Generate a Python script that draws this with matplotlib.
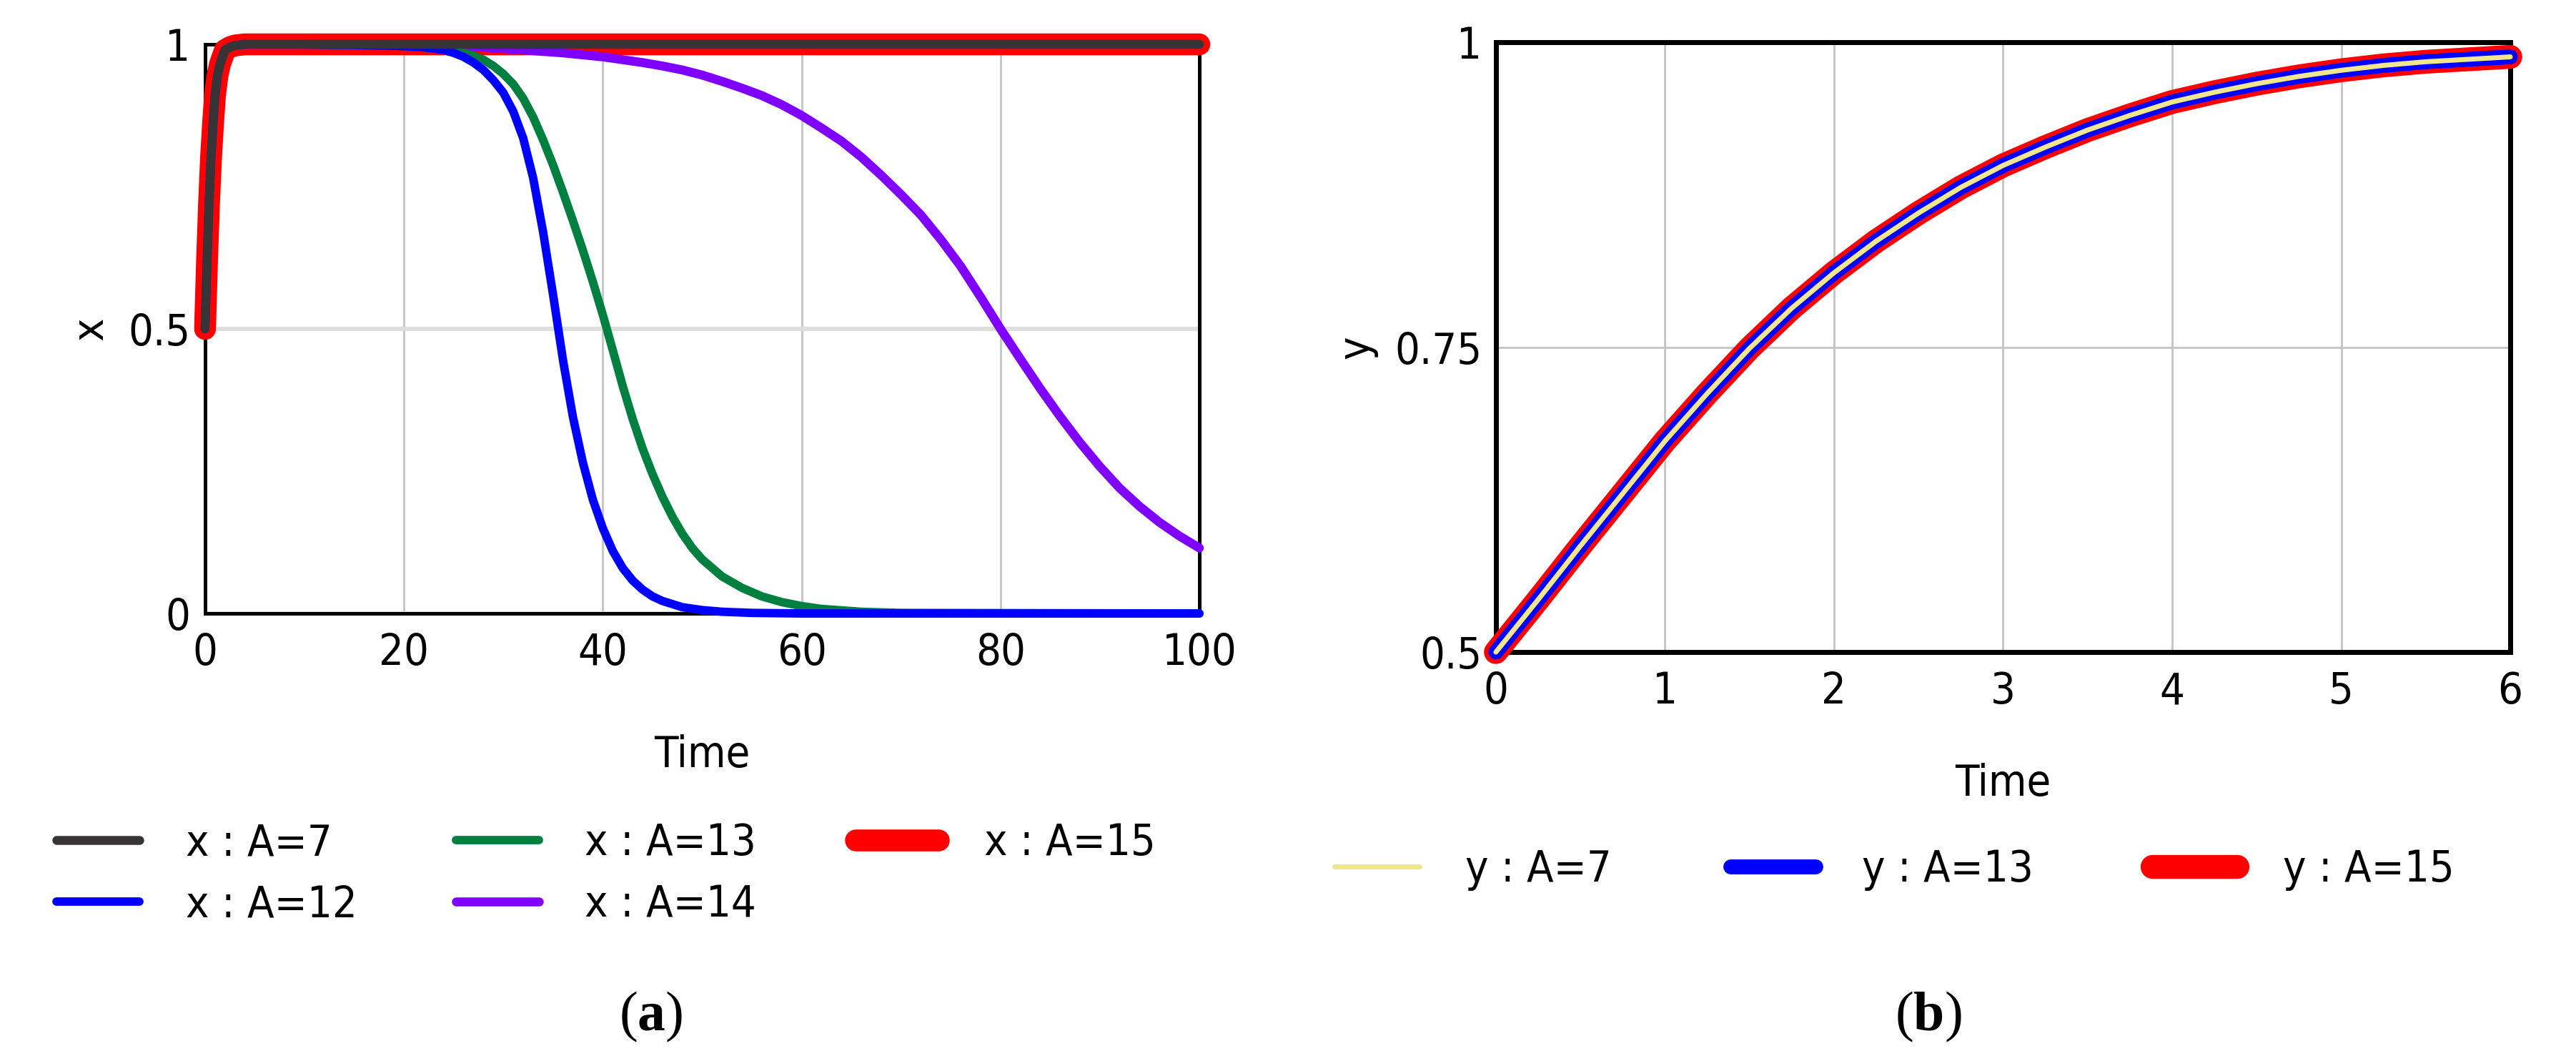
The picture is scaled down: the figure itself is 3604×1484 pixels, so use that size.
import os
import matplotlib
matplotlib.use('Agg')
import matplotlib.pyplot as plt
from matplotlib import font_manager
from matplotlib.font_manager import FontProperties

# x(t) for different A values
t_a7 = [0, 0.1, 0.2, 0.3, 0.4, 0.5, 0.6, 0.8, 1.0, 1.25, 1.5, 2, 2.5, 3, 4, 5, 100]
x_a7 = [0.5, 0.56, 0.62, 0.67, 0.72, 0.76, 0.80, 0.86, 0.91, 0.945, 0.965, 0.99,
        0.995, 0.998, 1.0, 1.0, 1.0]

t_a15 = [0, 0.1, 0.2, 0.3, 0.4, 0.5, 0.6, 0.8, 1.0, 1.25, 1.5, 2, 2.5, 3, 4, 5, 100]
x_a15 = [0.5, 0.56, 0.62, 0.67, 0.72, 0.76, 0.80, 0.86, 0.91, 0.945, 0.965, 0.99,
         0.995, 0.998, 1.0, 1.0, 1.0]

t_a12 = [0, 0.1, 0.2, 0.3, 0.4, 0.5, 0.6, 0.8, 1.0, 1.25, 1.5, 2, 2.5, 3, 4, 5,
         10, 15, 20, 22, 24, 25, 26, 27, 28, 29, 30, 31, 32, 33, 34, 35, 36, 37,
         38, 39, 40, 41, 42, 43, 44, 45, 46, 48, 50, 52, 55, 60, 100]
x_a12 = [0.5, 0.56, 0.62, 0.67, 0.72, 0.76, 0.80, 0.86, 0.91, 0.945, 0.965, 0.99,
         0.995, 0.998, 1.0, 1.0,
         1.0, 0.999, 0.997, 0.995, 0.99, 0.985, 0.978, 0.968, 0.955, 0.937, 0.915,
         0.882, 0.835, 0.765, 0.67, 0.56, 0.445, 0.345, 0.265, 0.2, 0.15, 0.11,
         0.08, 0.058, 0.042, 0.03, 0.022, 0.011, 0.006, 0.003, 0.001, 0.0, 0.0]

t_a13 = [0, 0.1, 0.2, 0.3, 0.4, 0.5, 0.6, 0.8, 1.0, 1.25, 1.5, 2, 2.5, 3, 4, 5,
         10, 15, 20, 24, 26, 27, 28, 29, 30, 31, 32, 33, 34, 35, 36, 37, 38, 39,
         40, 41, 42, 43, 44, 45, 46, 47, 48, 49, 50, 52, 54, 56, 58, 60, 62, 66,
         70, 100]
x_a13 = [0.5, 0.56, 0.62, 0.67, 0.72, 0.76, 0.80, 0.86, 0.91, 0.945, 0.965, 0.99,
         0.995, 0.998, 1.0, 1.0,
         1.0, 0.999, 0.997, 0.992, 0.985, 0.98, 0.973, 0.962, 0.948, 0.93, 0.905,
         0.872, 0.832, 0.788, 0.74, 0.69, 0.638, 0.583, 0.525, 0.463, 0.4, 0.342,
         0.29, 0.245, 0.205, 0.17, 0.14, 0.115, 0.095, 0.065, 0.045, 0.03, 0.02,
         0.013, 0.008, 0.003, 0.001, 0.0]

t_a14 = [0, 0.1, 0.2, 0.3, 0.4, 0.5, 0.6, 0.8, 1.0, 1.25, 1.5, 2, 2.5, 3, 4, 5,
         10, 15, 20, 24, 28, 32, 36, 40, 42, 44, 46, 48, 50, 52, 54, 56, 58, 60,
         62, 64, 66, 68, 70, 72, 74, 76, 78, 80, 82, 84, 86, 88, 90, 92, 94, 96,
         98, 100]
x_a14 = [0.5, 0.56, 0.62, 0.67, 0.72, 0.76, 0.80, 0.86, 0.91, 0.945, 0.965, 0.99,
         0.995, 0.998, 1.0, 1.0,
         1.0, 0.999, 0.998, 0.997, 0.995, 0.99, 0.985, 0.978, 0.973, 0.968, 0.962,
         0.955, 0.946, 0.935, 0.923, 0.91, 0.894, 0.875, 0.853, 0.83, 0.802, 0.77,
         0.736, 0.70, 0.657, 0.61, 0.556, 0.50, 0.447, 0.395, 0.346, 0.30, 0.258,
         0.22, 0.188, 0.16, 0.136, 0.115]

# y(t), panel (b) - the three runs lie on top of each other
t_y = [0, 0.25, 0.5, 0.75, 1, 1.25, 1.5, 1.75, 2, 2.25, 2.5, 2.75, 3, 3.25, 3.5,
       3.75, 4, 4.25, 4.5, 4.75, 5, 5.25, 5.5, 5.75, 6]
y_vals = [0.5, 0.543, 0.587, 0.630, 0.673, 0.712, 0.749, 0.782, 0.811, 0.837,
          0.860, 0.881, 0.899, 0.914, 0.928, 0.940, 0.951, 0.959, 0.966, 0.972,
          0.977, 0.981, 0.984, 0.986, 0.988]
y_a7 = y_vals
y_a13 = y_vals
y_a15 = y_vals

x_ticks_a = [0, 20, 40, 60, 80, 100]
x_ticklabels_a = ['0', '20', '40', '60', '80', '100']
y_ticks_a = [0, 0.5, 1]
y_ticklabels_a = ['0', '0.5', '1']
x_ticks_b = [0, 1, 2, 3, 4, 5, 6]
x_ticklabels_b = ['0', '1', '2', '3', '4', '5', '6']
y_ticks_b = [0.5, 0.75, 1]
y_ticklabels_b = ['0.5', '0.75', '1']

labels_a = ['x : A=7', 'x : A=12', 'x : A=13', 'x : A=14', 'x : A=15']
labels_b = ['y : A=7', 'y : A=13', 'y : A=15']

FS = 44

BAD = ['thin', 'light', 'medium', 'semibold', 'bold', 'black', 'italic',
       'extra', 'ultra', 'demi', 'oblique', 'mono', 'display', 'ui', 'symbols']


def regular_face(base, word):
    rest = base.replace(word, '')
    return not any(b in rest for b in BAD)


def pick_font_file():
    # the original text is a narrow sans, look for a regular narrow face
    files = sorted(set(f.fname for f in font_manager.fontManager.ttflist))
    prefs = [('liberationsansnarrow', 'liberationsansnarrow'),
             ('notosans', 'semicondensed'),
             ('opensans', 'semicondensed'),
             ('notosans', 'condensed'),
             ('opensans', 'condensed'),
             ('dejavusans', 'condensed')]
    for fam, word in prefs:
        for p in files:
            b = os.path.splitext(os.path.basename(p))[0].lower().replace('-', '').replace('_', '')
            if not b.startswith(fam) or word not in b:
                continue
            if word == 'condensed' and ('semicondensed' in b or 'extracondensed' in b):
                continue
            if regular_face(b[len(fam):], word if word != fam else ''):
                return p
    return None


path = pick_font_file()
if path:
    fp = FontProperties(fname=path, size=FS)
else:
    fp = FontProperties(family='Liberation Sans', size=FS)

plt.rcParams['mathtext.fontset'] = 'custom'
plt.rcParams['mathtext.rm'] = 'Liberation Serif'
plt.rcParams['mathtext.bf'] = 'Liberation Serif:bold'

fig = plt.figure(figsize=(36.04, 14.84), dpi=100)
ax1 = fig.add_axes([0.0796, 0.4218, 0.386, 0.5364])
ax2 = fig.add_axes([0.5807, 0.3854, 0.3938, 0.5748])

# ---- panel (a)
kw = dict(clip_on=False, solid_capstyle='round', solid_joinstyle='round')
l15, = ax1.plot(t_a15, x_a15, color='#ff0000', lw=22, zorder=3, **kw)
l14, = ax1.plot(t_a14, x_a14, color='#8000ff', lw=9, zorder=3.1, **kw)
l13, = ax1.plot(t_a13, x_a13, color='#008040', lw=8.5, zorder=3.2, **kw)
l12, = ax1.plot(t_a12, x_a12, color='#0000ff', lw=8.5, zorder=3.3, **kw)
l7, = ax1.plot(t_a7, x_a7, color='#373435', lw=9, zorder=3.4, **kw)

ax1.set_xlim(0, 100)
ax1.set_ylim(0, 1)
ax1.set_xticks(x_ticks_a)
ax1.set_xticklabels(x_ticklabels_a, fontproperties=fp)
ax1.set_yticks(y_ticks_a)
ax1.set_yticklabels(y_ticklabels_a, fontproperties=fp)
ax1.grid(axis='x', color='#c8c8c8', lw=2.2)
ax1.grid(axis='y', color='#dedede', lw=4.3)
ax1.set_axisbelow(True)
for s in ax1.spines.values():
    s.set_linewidth(3.6)
ax1.tick_params(length=0)
ax1.tick_params(axis='x', pad=19)
ax1.tick_params(axis='y', pad=15)
ax1.set_xlabel('Time', fontproperties=fp, labelpad=60)
ax1.set_ylabel('x', fontproperties=fp, labelpad=16)

fig.legend([l7, l12, l13, l14, l15], labels_a,
           loc='upper left', bbox_to_anchor=(0.022, 0.225), ncol=3,
           frameon=False, borderpad=0, borderaxespad=0, prop=fp,
           handlelength=1.9, handletextpad=1.05, columnspacing=2.27,
           labelspacing=0.45)

# ---- panel (b)
m15, = ax2.plot(t_y, y_a15, color='#ff0000', lw=24, zorder=3, **kw)
m13, = ax2.plot(t_y, y_a13, color='#0000ff', lw=15, zorder=3.1, **kw)
m7, = ax2.plot(t_y, y_a7, color='#f0e68c', lw=5, zorder=3.2, **kw)

ax2.set_xlim(0, 6)
ax2.set_ylim(0.5, 1)
ax2.set_xticks(x_ticks_b)
ax2.set_xticklabels(x_ticklabels_b, fontproperties=fp)
ax2.set_yticks(y_ticks_b)
ax2.set_yticklabels(y_ticklabels_b, fontproperties=fp)
ax2.grid(color='#c4c4c4', lw=2)
ax2.set_axisbelow(True)
for s in ax2.spines.values():
    s.set_linewidth(5)
ax2.tick_params(length=0)
ax2.tick_params(axis='x', pad=19)
ax2.tick_params(axis='y', pad=14)
ax2.set_xlabel('Time', fontproperties=fp, labelpad=50)
ax2.set_ylabel('y', fontproperties=fp, labelpad=17)

fig.legend([m7, m13, m15], labels_b,
           loc='upper left', bbox_to_anchor=(0.518, 0.200), ncol=3,
           frameon=False, borderpad=0, borderaxespad=0, prop=fp,
           handlelength=1.95, handletextpad=1.05, columnspacing=2.72)

# captions
fig.text(0.2528, 0.0418, r'($\mathbf{a}$)', fontsize=56, ha='center', va='center',
         family='Liberation Serif')
fig.text(0.7486, 0.0418, r'($\mathbf{b}$)', fontsize=56, ha='center', va='center',
         family='Liberation Serif')

fig.savefig('out.png', dpi=100)
